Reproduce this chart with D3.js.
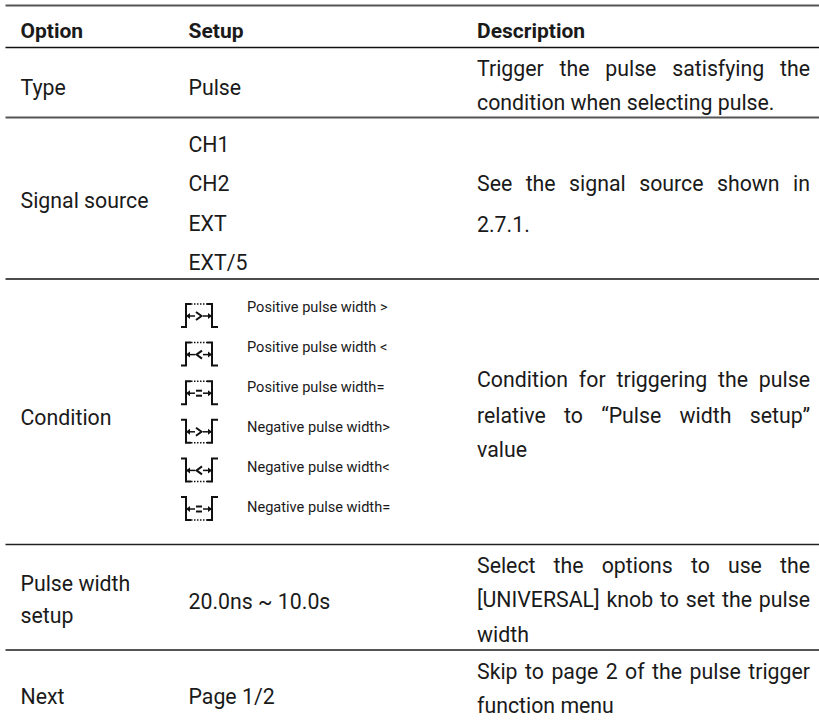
<!DOCTYPE html>
<html>
<head>
<meta charset="utf-8">
<script src="https://cdnjs.cloudflare.com/ajax/libs/d3/7.8.5/d3.min.js"></script>
<style>
body { margin: 0; background: #fff; }
text { font-family: Roboto, sans-serif; fill: #1a1a1a; }
</style>
</head>
<body>
<svg id="chart" width="819" height="727"></svg>
<script>
const headers = ["Option", "Setup", "Description"];
const rowNames = ["Type", "Signal source", "Condition", "Pulse width", "setup", "Next"];
const sources = ["CH1", "CH2", "EXT", "EXT/5"];
const conditions = ["Positive pulse width >", "Positive pulse width <", "Positive pulse width=",
  "Negative pulse width>", "Negative pulse width<", "Negative pulse width="];
const conditionMarks = [">", "<", "=", ">", "<", "="];

const svg = d3.select("#chart");
const W = 819;

// column lefts
const colX = d3.scaleOrdinal().domain(["option", "setup", "desc"]).range([20.5, 188.5, 477]);
const descRight = 810;

function put(s, x, y, opts) {
  opts = opts || {};
  return svg.append("text").attr("x", x).attr("y", y)
    .attr("font-size", opts.size || 21.3)
    .attr("font-weight", opts.bold ? 700 : 400)
    .text(s);
}

// justified line: spread the words out to the right edge
function justified(s, y) {
  const words = s.split(" ");
  const nodes = words.map(w => put(w, 0, y));
  const widths = nodes.map(n => n.node().getComputedTextLength());
  const gap = (descRight - colX("desc") - d3.sum(widths)) / (words.length - 1);
  let x = colX("desc");
  nodes.forEach((n, i) => { n.attr("x", x); x += widths[i] + gap; });
}

// rules
const rules = [
  {y: 5.5, w: 2, c: "#555"}, {y: 47.5, w: 1.5, c: "#111"}, {y: 117.5, w: 2, c: "#555"},
  {y: 279, w: 1.5, c: "#111"}, {y: 544.5, w: 1.5, c: "#222"}, {y: 650, w: 2, c: "#555"}
];
svg.selectAll("line.rule").data(rules).enter().append("line")
  .attr("class", "rule")
  .attr("x1", 5.5).attr("x2", W)
  .attr("y1", d => d.y).attr("y2", d => d.y)
  .attr("stroke", d => d.c).attr("stroke-width", d => d.w);

// header
put(headers[0], colX("option"), 38, {bold: true, size: 21});
put(headers[1], colX("setup"), 38, {bold: true, size: 21});
put(headers[2], colX("desc"), 38, {bold: true, size: 21});

// Type
put(rowNames[0], colX("option"), 95);
put("Pulse", colX("setup"), 95);
justified("Trigger the pulse satisfying the", 76);
put("condition when selecting pulse.", colX("desc"), 110);

// Signal source
put(rowNames[1], colX("option"), 208);
const sourceY = d3.scalePoint().domain(sources).range([151.7, 270]);
sources.forEach(s => put(s, colX("setup"), sourceY(s)));
justified("See the signal source shown in", 190.7);
put("2.7.1.", colX("desc"), 232);

// Condition
put(rowNames[2], colX("option"), 425);
const condY = d3.scalePoint().domain(conditions).range([311.7, 511.7]);
conditions.forEach(c => put(c, 247, condY(c), {size: 14.6}));
justified("Condition for triggering the pulse", 387);
justified("relative to \u201cPulse width setup\u201d", 422.7);
put("value", colX("desc"), 457);

// pulse width symbols next to the condition labels
const iconX = {low0: 181, left: 186, right: 212, low1: 218};
const iconH = 23;
const iconTop = d3.scalePoint().domain(conditions).range([304, 497]);

function pulseIcon(mark, i) {
  const positive = i < 3;
  const top = iconTop(conditions[i]);
  const level = positive ? top + iconH : top;      // outer level of the pulse
  const inner = positive ? top : top + iconH;      // dotted side
  const mid = top + 12;
  const g = svg.append("g").attr("fill", "none").attr("stroke", "#111").attr("stroke-width", 2);

  g.append("path").attr("d", d3.line()([
    [iconX.low0, level], [iconX.left, level], [iconX.left, inner], [iconX.left + 5, inner]
  ]));
  g.append("path").attr("d", d3.line()([
    [iconX.right - 5, inner], [iconX.right, inner], [iconX.right, level], [iconX.low1, level]
  ]));
  g.append("line").attr("x1", iconX.left + 5).attr("x2", iconX.right - 5)
    .attr("y1", inner).attr("y2", inner).attr("stroke-width", 1.5).attr("stroke-dasharray", "1.5 1.5");

  // arrows pointing out at the edges
  g.append("line").attr("x1", iconX.left).attr("x2", iconX.left + 9).attr("y1", mid).attr("y2", mid).attr("stroke-width", 1.5);
  g.append("line").attr("x1", iconX.right - 9).attr("x2", iconX.right).attr("y1", mid).attr("y2", mid).attr("stroke-width", 1.5);
  g.append("path").attr("fill", "#111").attr("stroke", "none")
    .attr("d", d3.line()([[iconX.left, mid], [iconX.left + 4, mid - 3], [iconX.left + 4, mid + 3]]));
  g.append("path").attr("fill", "#111").attr("stroke", "none")
    .attr("d", d3.line()([[iconX.right, mid], [iconX.right - 4, mid - 3], [iconX.right - 4, mid + 3]]));

  const cx = (iconX.left + iconX.right) / 2;
  if (mark === ">") {
    g.append("path").attr("d", d3.line()([[cx - 3, mid - 4], [cx + 2.5, mid], [cx - 3, mid + 4]]));
  } else if (mark === "<") {
    g.append("path").attr("d", d3.line()([[cx + 3, mid - 4], [cx - 2.5, mid], [cx + 3, mid + 4]]));
  } else {
    g.append("line").attr("x1", cx - 3).attr("x2", cx + 3).attr("y1", mid - 2.5).attr("y2", mid - 2.5);
    g.append("line").attr("x1", cx - 3).attr("x2", cx + 3).attr("y1", mid + 2.5).attr("y2", mid + 2.5);
  }
}
conditionMarks.forEach(pulseIcon);

// Pulse width setup
put(rowNames[3], colX("option"), 590.7);
put(rowNames[4], colX("option"), 622.7);
put("20.0ns ~ 10.0s", colX("setup"), 609);
justified("Select the options to use the", 572.7);
justified("[UNIVERSAL] knob to set the pulse", 607);
put("width", colX("desc"), 641.7);

// Next
put(rowNames[5], colX("option"), 704);
put("Page 1/2", colX("setup"), 704);
justified("Skip to page 2 of the pulse trigger", 679);
put("function menu", colX("desc"), 712.7);
</script>
</body>
</html>
